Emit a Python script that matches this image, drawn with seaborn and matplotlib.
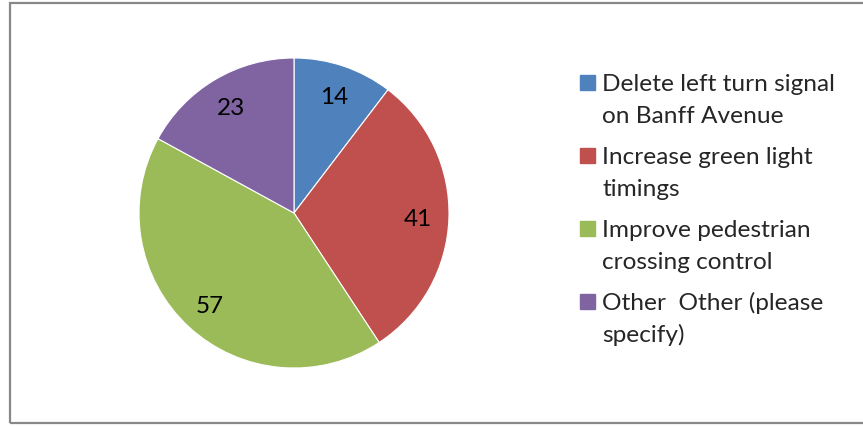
import matplotlib
matplotlib.use("Agg")
import matplotlib.pyplot as plt
import matplotlib.patches as mpatches
import seaborn as sns

# data
categories = ["Delete left turn signal\non Banff Avenue",
              "Increase green light\ntimings",
              "Improve pedestrian\ncrossing control",
              "Other  Other (please\nspecify)"]
counts = [14, 41, 57, 23]
colors = ["#4F81BD", "#C0504D", "#9BBB59", "#8064A2"]

sns.set_style("white")
plt.rcParams["font.family"] = ["Lato", "DejaVu Sans"]

W, H = 863, 426
fig = plt.figure(figsize=(W / 100, H / 100), dpi=100)

# outer border
fig.patches.append(mpatches.Rectangle((9.5 / W, 3 / H), 1.0, 420 / H, transform=fig.transFigure,
                                      fill=False, edgecolor="#888888", lw=1.6))

# pie centered at (294, 213), radius 155 px
cx, cy, r = 294, 213, 155
ax = fig.add_axes([(cx - r) / W, (H - cy - r) / H, 2 * r / W, 2 * r / H])
wedges, texts = ax.pie(counts, colors=sns.color_palette(colors), startangle=90, counterclock=False,
                       labels=[str(c) for c in counts], labeldistance=0.8,
                       wedgeprops=dict(edgecolor="white", linewidth=0.8),
                       textprops=dict(fontsize=17.5, color="black", ha="center", va="center_baseline"))
ax.set_xlim(-1, 1)
ax.set_ylim(-1, 1)
ax.axis("off")

# legend drawn by hand so the marker sits on the first line of each entry
fs = 17.6
for i, (lab, col) in enumerate(zip(categories, colors)):
    base = 91 + i * 73
    fig.patches.append(mpatches.Rectangle((580 / W, 1 - (base - 1) / H), 15 / W, 15 / H,
                                          transform=fig.transFigure, color=col))
    for j, line in enumerate(lab.split("\n")):
        fig.text(602 / W, 1 - (base + j * 32) / H, line, fontsize=fs, va="baseline", ha="left")

fig.savefig("out.png", dpi=100)
